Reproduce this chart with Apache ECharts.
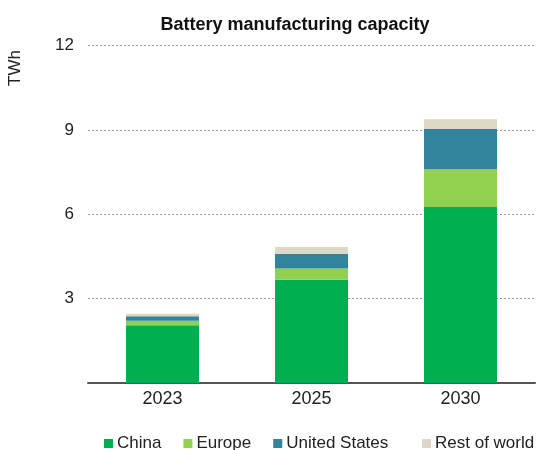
<!DOCTYPE html>
<html>
<head>
<meta charset="utf-8">
<script src="https://cdn.jsdelivr.net/npm/echarts@6/dist/echarts.min.js"></script>
<style>
  html, body { margin: 0; padding: 0; background: #fff; }
  #chart { width: 539px; height: 450px; }
</style>
</head>
<body>
<div id="chart"></div>
<script>
// Battery manufacturing capacity by region, TWh
const years = ['2023', '2025', '2030'];
const china = [2.05, 3.67, 6.26];
const europe = [0.16, 0.40, 1.34];
const unitedStates = [0.16, 0.53, 1.43];
const restOfWorld = [0.09, 0.24, 0.35];
const yTicks = [0, 3, 6, 9, 12];
const regions = ['China', 'Europe', 'United States', 'Rest of world'];

const colors = {
  china: '#00b050',
  europe: '#92d050',
  us: '#31849b',
  rest: '#ddd9c4'
};

const font = 'Liberation Sans, Arial, sans-serif';

function barSeries(name, data, color) {
  return {
    name: name,
    type: 'bar',
    stack: 'total',
    data: data,
    barWidth: '49%',
    itemStyle: { color: color },
    emphasis: { disabled: true }
  };
}

function legendBlock(names, left) {
  return {
    left: left,
    top: 430,
    itemWidth: 9,
    itemHeight: 9,
    itemGap: 22,
    icon: 'rect',
    textStyle: { fontFamily: font, fontSize: 17, color: '#222', padding: [0, 0, 0, -1] },
    data: names
  };
}

const chart = echarts.init(document.getElementById('chart'), null, { renderer: 'canvas' });
chart.setOption({
  animation: false,
  title: {
    text: 'Battery manufacturing capacity',
    left: 290,
    textAlign: 'center',
    top: 11,
    textStyle: { fontFamily: font, fontSize: 18, fontWeight: 'bold', color: '#111' }
  },
  // legend split in two so the row never wraps
  legend: [
    legendBlock(regions.slice(0, 3), 99),
    legendBlock(regions.slice(3), 417)
  ],
  grid: { left: 88, right: 4, top: 45.5, bottom: 67, containLabel: false },
  xAxis: {
    type: 'category',
    data: years,
    axisLine: { lineStyle: { color: '#555', width: 2 } },
    axisTick: { show: false },
    axisLabel: { fontFamily: font, fontSize: 18, color: '#222', margin: 7 }
  },
  yAxis: {
    type: 'value',
    min: yTicks[0],
    max: yTicks[yTicks.length - 1],
    interval: yTicks[1] - yTicks[0],
    axisLine: { show: false },
    axisTick: { show: false },
    axisLabel: {
      fontFamily: font, fontSize: 17, color: '#222', margin: 14,
      formatter: v => (v === 0 ? '' : String(v))
    },
    splitLine: { lineStyle: { color: '#999', type: [2, 2], width: 1 } }
  },
  graphic: [{
    type: 'text',
    x: 15,
    y: 68,
    rotation: Math.PI / 2,
    style: {
      text: 'TWh',
      font: '17px ' + font,
      fill: '#222',
      align: 'center',
      verticalAlign: 'middle'
    }
  }],
  series: [
    barSeries(regions[0], china, colors.china),
    barSeries(regions[1], europe, colors.europe),
    barSeries(regions[2], unitedStates, colors.us),
    barSeries(regions[3], restOfWorld, colors.rest)
  ]
});
</script>
</body>
</html>
